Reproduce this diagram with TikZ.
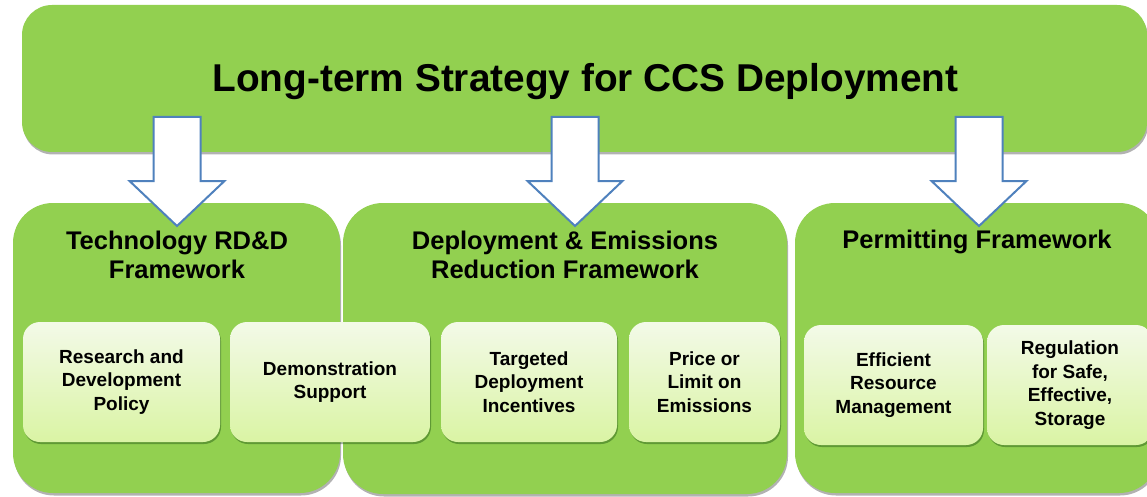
\documentclass[tikz,border=0pt]{standalone}
\usepackage{fontspec}
\setmainfont{Liberation Sans}
\usetikzlibrary{shadows,calc}
\definecolor{boxgreen}{HTML}{92D050}
\definecolor{arrowblue}{HTML}{4F81BD}
\definecolor{innertop}{HTML}{F3FAE8}
\definecolor{innerbot}{HTML}{DAF4A4}
\tikzset{
  topbox/.style={rectangle, rounded corners=30pt, fill=boxgreen, draw=none,
    drop shadow={shadow xshift=1pt, shadow yshift=-2.5pt, opacity=0.3, fill=black}},
  bigbox/.style={rectangle, rounded corners=40pt, fill=boxgreen, draw=none,
    drop shadow={shadow xshift=1pt, shadow yshift=-2.5pt, opacity=0.3, fill=black}},
  innerbox/.style={rectangle, rounded corners=17pt, top color=innertop, bottom color=innerbot,
    draw=none, minimum height=120pt, align=center, inner sep=2pt,
    font=\fontsize{19}{23.5}\selectfont\bfseries,
    drop shadow={shadow xshift=1pt, shadow yshift=-2pt, opacity=0.35, fill=black!80!green}},
  headtext/.style={align=center, font=\fontsize{25.5}{29.5}\selectfont\bfseries, inner sep=0pt},
  blockarrow/.style={fill=white, draw=arrowblue, line width=2pt, line join=miter},
}
\begin{document}
\begin{tikzpicture}[x=1pt,y=-1pt]
\useasboundingbox (0,0) rectangle (1147,497);
\clip (0,0) rectangle (1147,497);
\fill[white] (0,0) rectangle (1147,497);

% top box
\node[topbox, minimum width=1125pt, minimum height=147pt] (top) at (584.5,78.5) {};
\node[font=\fontsize{38.8}{44}\selectfont\bfseries, inner sep=0pt] (title) at (585.5,82) {Long-term Strategy for CCS Deployment};

% framework boxes
\node[bigbox, minimum width=327pt, minimum height=290pt] (tech) at (176.5,348) {};
\node[bigbox, minimum width=444pt, minimum height=291pt] (dep) at (565,348.5) {};
\node[bigbox, minimum width=364pt, minimum height=290pt] (perm) at (977,348) {};

\node[headtext] (htech) at (177,255) {Technology RD\&D\\Framework};
\node[headtext] (hdep) at (565,255) {Deployment \& Emissions\\Reduction Framework};
\node[headtext] (hperm) at (977,241.5) {Permitting Framework};

% inner boxes
\node[innerbox, minimum width=197pt] (rd) at (121.5,382) {Research and\\Development\\Policy};
\node[innerbox, minimum width=200pt] (demo) at (330,382) {Demonstration\\Support};
\node[innerbox, minimum width=176pt] (targ) at (529,382) {Targeted\\Deployment\\Incentives};
\node[innerbox, minimum width=151pt] (price) at (704.5,382) {Price or\\Limit on\\Emissions};
\node[innerbox, minimum width=179pt] (eff) at (893.5,385) {Efficient\\Resource\\Management};
\node[innerbox, minimum width=166pt] (reg) at (1070,385) {Regulation\\for Safe,\\Effective,\\Storage};

% block arrows
\coordinate (a1) at (177,117);
\coordinate (a2) at (575,117);
\coordinate (a3) at (979,117);
\foreach \a in {a1,a2,a3}{
  \draw[blockarrow] ($(\a)+(-23.5,0)$) -- ($(\a)+(23.5,0)$) -- ($(\a)+(23.5,64)$)
    -- ($(\a)+(47.5,64)$) -- ($(\a)+(0,109)$) -- ($(\a)+(-47.5,64)$)
    -- ($(\a)+(-23.5,64)$) -- cycle;
}
\end{tikzpicture}
\end{document}
